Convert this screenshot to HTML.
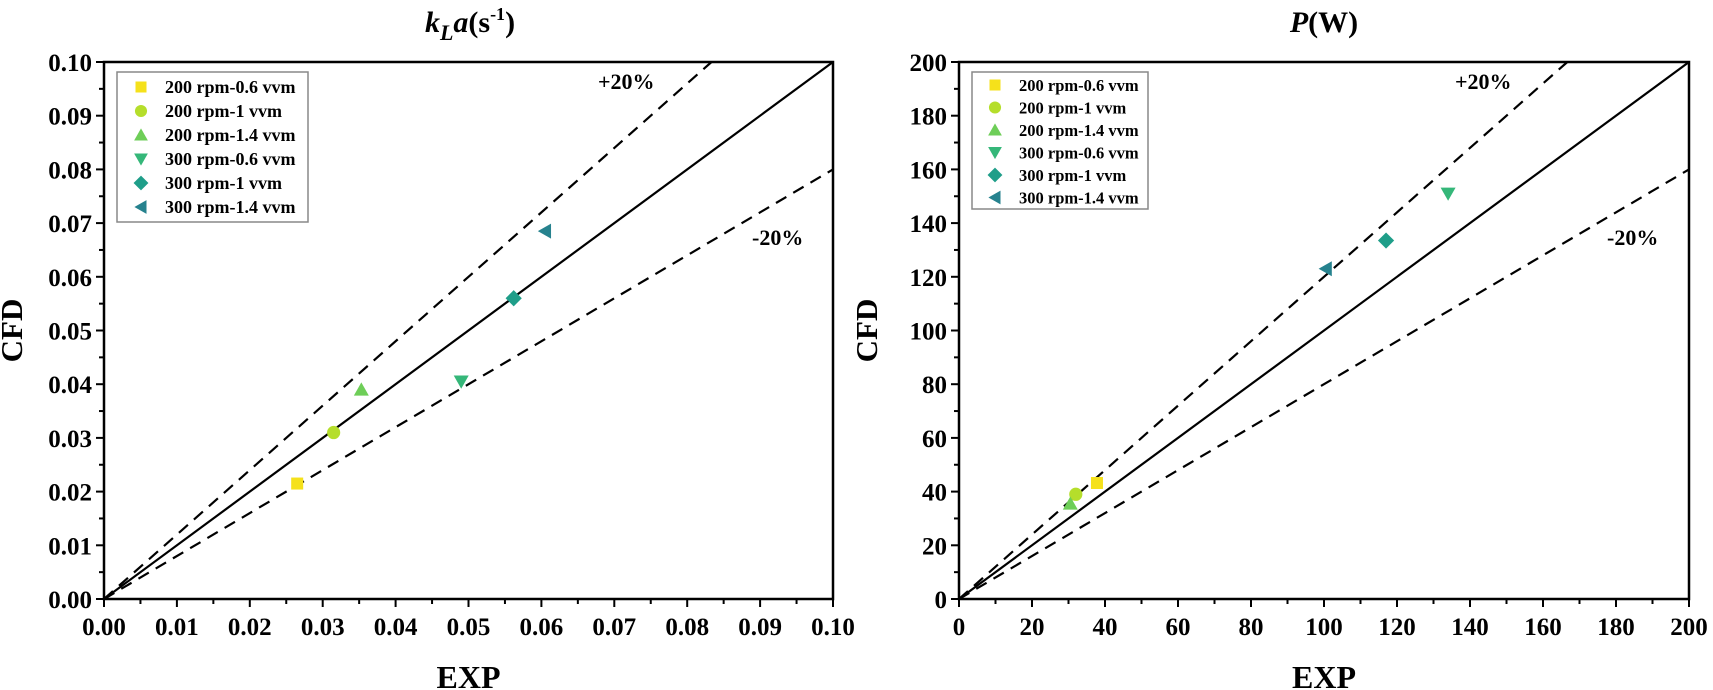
<!DOCTYPE html>
<html><head><meta charset="utf-8"><style>
html,body{margin:0;padding:0;background:#fff;}
svg{display:block;font-family:"Liberation Serif",serif;font-weight:bold;}
</style></head><body>
<svg id="s" width="1713" height="690" xmlns="http://www.w3.org/2000/svg"></svg>
<script>
const S=document.getElementById('s');let h='';
const cols=['#F5E11B','#B5DE2B','#6ECE58','#35B779','#1F9E89','#26828E'];
const names=['200 rpm-0.6 vvm','200 rpm-1 vvm','200 rpm-1.4 vvm','300 rpm-0.6 vvm','300 rpm-1 vvm','300 rpm-1.4 vvm'];
function marker(i,x,y,r){const c=cols[i];
 if(i==0)return `<rect x="${x-r}" y="${y-r}" width="${2*r}" height="${2*r}" fill="${c}"/>`;
 if(i==1)return `<circle cx="${x}" cy="${y}" r="${r*1.1}" fill="${c}"/>`;
 if(i==2)return `<polygon points="${x},${y-r*1.2} ${x+r*1.25},${y+r} ${x-r*1.25},${y+r}" fill="${c}"/>`;
 if(i==3)return `<polygon points="${x},${y+r*1.2} ${x+r*1.25},${y-r} ${x-r*1.25},${y-r}" fill="${c}"/>`;
 if(i==4)return `<polygon points="${x},${y-r*1.35} ${x+r*1.35},${y} ${x},${y+r*1.35} ${x-r*1.35},${y}" fill="${c}"/>`;
 return `<polygon points="${x-r*1.2},${y} ${x+r},${y-r*1.25} ${x+r},${y+r*1.25}" fill="${c}"/>`;}
function plot(L,R,max,step,dec,title,data,lg,p20,m20){
 const T=62,B=599,W=R-L,H=B-T;
 const X=v=>L+v/max*W,Y=v=>B-v/max*H;
 // lines
 h+=`<line x1="${L}" y1="${B}" x2="${R}" y2="${T}" stroke="#000" stroke-width="2.2"/>`;
 h+=`<line x1="${L}" y1="${B}" x2="${X(max/1.2)}" y2="${T}" stroke="#000" stroke-width="2.2" stroke-dasharray="12,8"/>`;
 h+=`<line x1="${L}" y1="${B}" x2="${R}" y2="${Y(max*0.8)}" stroke="#000" stroke-width="2.2" stroke-dasharray="12,8"/>`;
 data.forEach((d,i)=>h+=marker(i,X(d[0]),Y(d[1]),6));
 h+=`<rect x="${L}" y="${T}" width="${W}" height="${H}" fill="none" stroke="#000" stroke-width="2.5"/>`;
 const n=Math.round(max/step);
 for(let k=0;k<=2*n;k++){const v=k*step/2,maj=k%2==0,len=maj?8:5;
  h+=`<line x1="${X(v)}" y1="${B}" x2="${X(v)}" y2="${B+len}" stroke="#000" stroke-width="2"/>`;
  h+=`<line x1="${L}" y1="${Y(v)}" x2="${L-len}" y2="${Y(v)}" stroke="#000" stroke-width="2"/>`;
  if(maj){const t=(v).toFixed(dec);
   h+=`<text x="${X(v)}" y="635" font-size="25" text-anchor="middle">${t}</text>`;
   h+=`<text x="${L-12}" y="${Y(v)+9}" font-size="25" text-anchor="end">${t}</text>`;}}
 h+=`<text x="${(L+R)/2}" y="688" font-size="32" text-anchor="middle">EXP</text>`;
 h+=`<text transform="translate(${L-82},${(T+B)/2}) rotate(-90)" font-size="31" text-anchor="middle">CFD</text>`;
 h+=title;
 h+=`<text x="${p20[0]}" y="${p20[1]}" font-size="22">+20%</text><text x="${m20[0]}" y="${m20[1]}" font-size="22">-20%</text>`;
 // legend
 h+=`<rect x="${lg.x}" y="${lg.y}" width="${lg.w}" height="${lg.h}" fill="#fff" stroke="#888" stroke-width="1.5"/>`;
 for(let i=0;i<6;i++){const y=lg.y+lg.r0+i*lg.dy;h+=marker(i,lg.mx,y,5.5);
  h+=`<text x="${lg.tx}" y="${y+6}" font-size="${lg.fs}">${names[i]}</text>`;}
}
plot(104,833,0.1,0.01,2,
 `<text x="470" y="32" font-size="30" text-anchor="middle" font-style="italic">k<tspan font-size="22" dy="8">L</tspan><tspan dy="-8">a</tspan><tspan font-style="normal">(s</tspan><tspan font-style="normal" font-size="18" dy="-12">-1</tspan><tspan font-style="normal" dy="12">)</tspan></text>`,
 [[0.0265,0.0215],[0.0315,0.031],[0.0353,0.039],[0.049,0.0405],[0.0562,0.056],[0.0605,0.0685]],
 {x:117,y:72,w:191,h:150,r0:15,dy:24,mx:141,tx:165,fs:18},[598,89],[752,245]);
plot(959,1689,200,20,0,
 `<text x="1324" y="32" font-size="30" text-anchor="middle"><tspan font-style="italic">P</tspan>(W)</text>`,
 [[37.8,43.2],[32,39],[30.5,35.5],[134,151],[117,133.5],[100.5,123]],
 {x:972,y:72,w:176,h:137,r0:13,dy:22.5,mx:995,tx:1019,fs:16.5},[1455,89],[1607,245]);
S.innerHTML=h;
</script>
</body></html>
